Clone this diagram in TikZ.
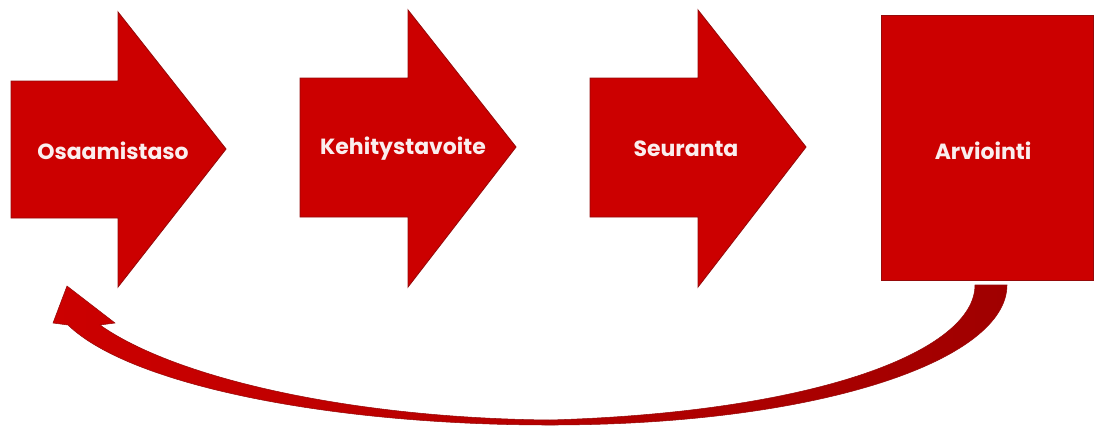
\documentclass[tikz,border=0pt]{standalone}
\usepackage{fontspec}
\setmainfont{Poppins}

\definecolor{blockred}{RGB}{204,0,0}
\definecolor{edgered}{RGB}{150,10,10}
\definecolor{darkred}{RGB}{160,0,0}
\definecolor{labelwhite}{RGB}{250,238,238}

\tikzset{
  block/.style={fill=blockred, draw=edgered, line width=0.5pt},
  lbl/.style={text=labelwhite, font=\bfseries\fontsize{12.5}{15}\selectfont, inner sep=0pt},
}

\begin{document}
\begin{tikzpicture}[x=0.2mm, y=-0.2mm]
    \useasboundingbox (0,0) rectangle (1098,426) ;
    % step arrows
    \draw [block] (11,81) -- ++(107,0) -- ++(0,-69) -- ++(108,137) -- ++(-108,138) -- ++(0,-69) -- ++(-107,0) -- cycle ;
    \node [lbl] (osaamistaso) at (113,151) {Osaamistaso} ;
    \draw [block] (300,78) -- ++(108,0) -- ++(0,-68) -- ++(108,137) -- ++(-108,140) -- ++(0,-70) -- ++(-108,0) -- cycle ;
    \node [lbl] (kehitystavoite) at (403,149) {Kehitystavoite} ;
    \draw [block] (590,78) -- ++(108,0) -- ++(0,-68) -- ++(108,137) -- ++(-108,140) -- ++(0,-70) -- ++(-108,0) -- cycle ;
    \node [lbl] (seuranta) at (686,149) {Seuranta} ;
    % last step
    \draw [block] (881,15) rectangle (1093,280) ;
    \node [lbl] (arviointi) at (983,151) {Arviointi} ;
    % back to the start
    \shadedraw [left color=blockred, right color=darkred, draw=edgered, line width=0.3pt]
        (975,285) .. controls (975,350) and (820,412) .. (550,420)
        .. controls (350,418) and (175,378) .. (100,325)
        -- (115,323) -- (67,286) -- (53,323) -- (68,325)
        .. controls (130,385) and (330,425) .. (550,425)
        .. controls (820,425) and (1007,360) .. (1007,285) -- cycle ;
\end{tikzpicture}
\end{document}
